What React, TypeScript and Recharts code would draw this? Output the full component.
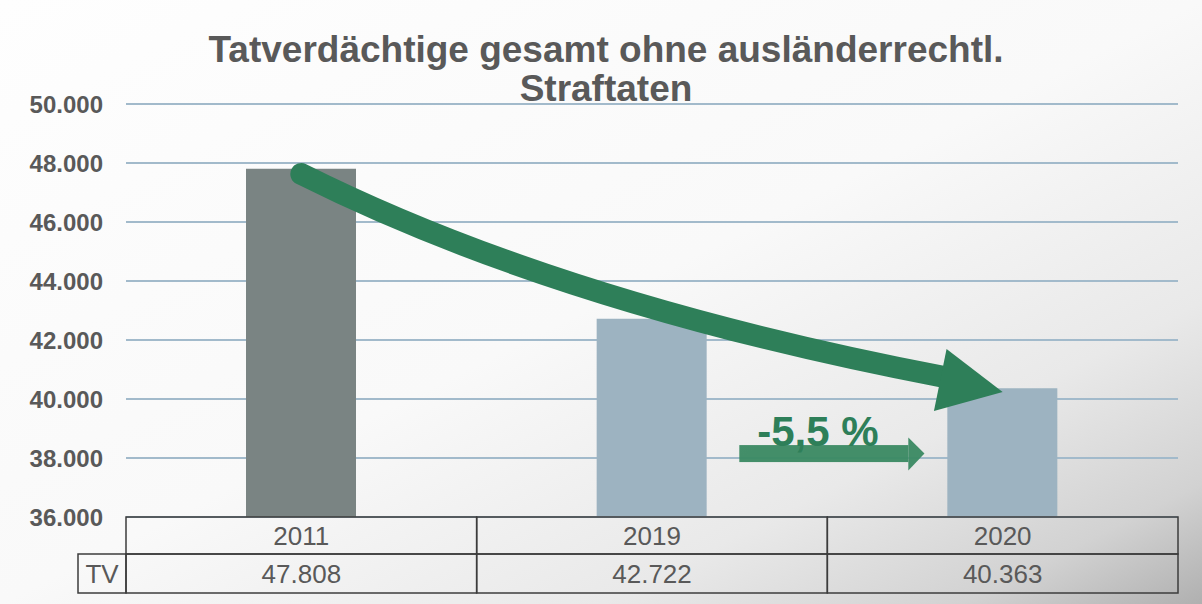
import React from "react";
import {
  BarChart,
  Bar,
  Cell,
  XAxis,
  YAxis,
  CartesianGrid,
  ReferenceLine,
} from "recharts";

// values
const years = ["2011", "2019", "2020"];
const suspects = [47808, 42722, 40363];
const yTicks = [36000, 38000, 40000, 42000, 44000, 46000, 48000, 50000];
const rowLabel = "TV";
const changeLabel = "-5,5 %";
const titleLines = ["Tatverdächtige gesamt ohne ausländerrechtl.", "Straftaten"];

// annotation anchors (data space)
const trendFrom = 47627;
const trendTo = 40237;
const hintLevel = 38150;

const W = 1202;
const H = 604;
const MARGIN = { top: 104, right: 24, bottom: 0, left: 0 };
const Y_W = 126;
const X_H = 87;
const PLOT_W = W - MARGIN.right - Y_W;
const ROW1 = 37;
const ROW2 = 39;
const TV_W = 48;

const FONT = '"Liberation Sans", Arial, sans-serif';
const TEXT = "#595959";
const LINE = "#3c3c3c";
const GREEN = "#2e7f59";

const fmt = (v: number) => String(v).replace(/\B(?=(\d{3})+(?!\d))/g, ".");

const chartData = years.map((y, i) => ({ year: y, value: suspects[i] }));

const TableTick = (props: any) => {
  const { x, y, payload } = props;
  const i = years.indexOf(String(payload.value));
  const bw = PLOT_W / years.length;
  const left = x - bw / 2;
  const cell = { fill: "none", stroke: LINE, strokeWidth: 1.5 };
  const txt = { fill: TEXT, fontSize: 26, fontFamily: FONT, textAnchor: "middle" as const, dominantBaseline: "central" as const };
  return (
    <g>
      <rect x={left} y={y} width={bw} height={ROW1} {...cell} />
      <rect x={left} y={y + ROW1} width={bw} height={ROW2} {...cell} />
      {i === 0 && (
        <>
          <rect x={left - TV_W} y={y + ROW1} width={TV_W} height={ROW2} {...cell} />
          <text x={left - TV_W / 2} y={y + ROW1 + ROW2 / 2} {...txt}>
            {rowLabel}
          </text>
        </>
      )}
      <text x={x} y={y + ROW1 / 2} {...txt}>
        {payload.value}
      </text>
      <text x={x} y={y + ROW1 + ROW2 / 2} {...txt}>
        {fmt(suspects[i])}
      </text>
    </g>
  );
};

// big curved arrow between the 2011 and 2020 bars
const TrendArrow = (props: any) => {
  const { x1, y1, x2, y2 } = props;
  const dx = x2 - x1;
  const dy = y2 - y1;
  const p = (fx: number, fy: number) => `${x1 + fx * dx},${y1 + fy * dy}`;
  const d = `M${p(0, 0)} Q${p(0.369, 0.594)} ${p(0.915, 0.93)}`;
  return (
    <g>
      <path d={d} fill="none" stroke={GREEN} strokeWidth={22} strokeLinecap="round" />
      <polygon points={`${p(0.92, 0.803)} ${x2},${y2} ${p(0.902, 1.087)}`} fill={GREEN} />
    </g>
  );
};

// small straight arrow with the percentage
const HintArrow = (props: any) => {
  const { x1, y1, x2 } = props;
  const dx = x2 - x1;
  const a = x1 + 0.249 * dx;
  const b = x1 + 0.731 * dx;
  const tip = x1 + 0.777 * dx;
  const c = "#3a8962";
  return (
    <g>
      <rect x={a} y={y1 - 8.5} width={b - a} height={17} fill={c} opacity={0.95} />
      <polygon points={`${b},${y1 - 16} ${tip},${y1} ${b},${y1 + 17}`} fill={c} opacity={0.95} />
      <text
        x={x1 + 0.473 * dx}
        y={y1 - 8}
        textAnchor="middle"
        fill={GREEN}
        fontSize={42}
        fontWeight="bold"
        fontFamily={FONT}
      >
        {changeLabel}
      </text>
    </g>
  );
};

export default function App() {
  return (
    <div
      style={{
        position: "absolute",
        left: 0,
        top: 0,
        width: W,
        height: H,
        overflow: "hidden",
        fontFamily: FONT,
        background:
          "linear-gradient(to bottom right, #fefefe 0%, #f9f9f9 50%, #e9e9e9 75%, #d2d2d2 90%, #b0b0b0 100%)",
      }}
    >
      <div
        style={{
          position: "absolute",
          left: 10,
          top: 30,
          width: 1192,
          textAlign: "center",
          fontSize: 37,
          lineHeight: "39px",
          fontWeight: "bold",
          color: TEXT,
          zIndex: 2,
          pointerEvents: "none",
        }}
      >
        {titleLines.map((t) => (
          <div key={t}>{t}</div>
        ))}
      </div>
      <BarChart width={W} height={H} data={chartData} margin={MARGIN}>
        <CartesianGrid horizontal vertical={false} stroke="#a2bacb" strokeWidth={2} />
        <XAxis
          dataKey="year"
          height={X_H}
          axisLine={false}
          tickLine={false}
          tickSize={0}
          tickMargin={0}
          interval={0}
          tick={<TableTick />}
        />
        <YAxis
          width={Y_W}
          domain={[36000, 50000]}
          ticks={yTicks}
          axisLine={false}
          tickLine={false}
          tickSize={0}
          tickMargin={23}
          tickFormatter={fmt}
          tick={{ fill: TEXT, fontSize: 24, fontWeight: "bold", fontFamily: FONT }}
        />
        <Bar dataKey="value" barSize={110} isAnimationActive={false}>
          {chartData.map((d, i) => (
            <Cell key={d.year} fill={i === 0 ? "#7a8483" : "#9db3c1"} />
          ))}
        </Bar>
        <ReferenceLine
          segment={[
            { x: years[0], y: trendFrom },
            { x: years[2], y: trendTo },
          ]}
          shape={<TrendArrow />}
        />
        <ReferenceLine
          segment={[
            { x: years[1], y: hintLevel },
            { x: years[2], y: hintLevel },
          ]}
          shape={<HintArrow />}
        />
      </BarChart>
    </div>
  );
}
